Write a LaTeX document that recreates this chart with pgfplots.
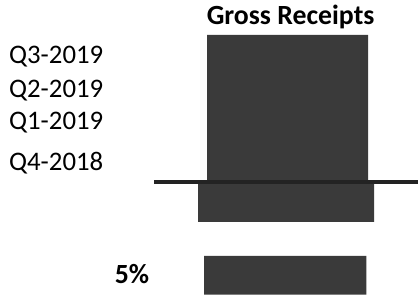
\documentclass[border=0pt]{standalone}
\usepackage{pgfplots}
\pgfplotsset{compat=1.18}
\usepackage{fontspec}
\setmainfont{Carlito}
\definecolor{bar}{RGB}{58,58,58}
\definecolor{zline}{RGB}{35,35,35}
\begin{document}
\begin{tikzpicture}
\begin{axis}[scale only axis, width=420bp, height=301bp,
  xmin=0, xmax=420, ymin=0, ymax=301, y dir=reverse,
  hide axis, clip=false]
\path (axis cs:0,0) rectangle (axis cs:420,301);
% upper bar (positive)
\addplot[fill=bar, draw=none] coordinates {(208,35) (370,35) (370,181) (208,181) (208,35)};
% lower bar (negative)
\addplot[fill=bar, draw=none] coordinates {(199,185) (376,185) (376,223) (199,223) (199,185)};
% 5% bar
\addplot[fill=bar, draw=none] coordinates {(205,257) (368,257) (368,296) (205,296) (205,257)};
% zero line
\addplot[line width=4bp, color=zline] coordinates {(155,183) (420,183)};
\tikzset{every node/.style={inner sep=0pt}}
\node[anchor=base, font=\fontsize{28}{28}\selectfont\bfseries] at (axis cs:292,25) {Gross Receipts};
\node[anchor=base west, font=\fontsize{27}{27}\selectfont] at (axis cs:9,63.3) {Q3-2019};
\node[anchor=base west, font=\fontsize{27}{27}\selectfont] at (axis cs:9,97.7) {Q2-2019};
\node[anchor=base west, font=\fontsize{27}{27}\selectfont] at (axis cs:9,130) {Q1-2019};
\node[anchor=base west, font=\fontsize{27}{27}\selectfont] at (axis cs:9,171.5) {Q4-2018};
\node[anchor=base east, font=\fontsize{28}{28}\selectfont\bfseries] at (axis cs:150,285) {5\%};
\end{axis}
\end{tikzpicture}
\end{document}
